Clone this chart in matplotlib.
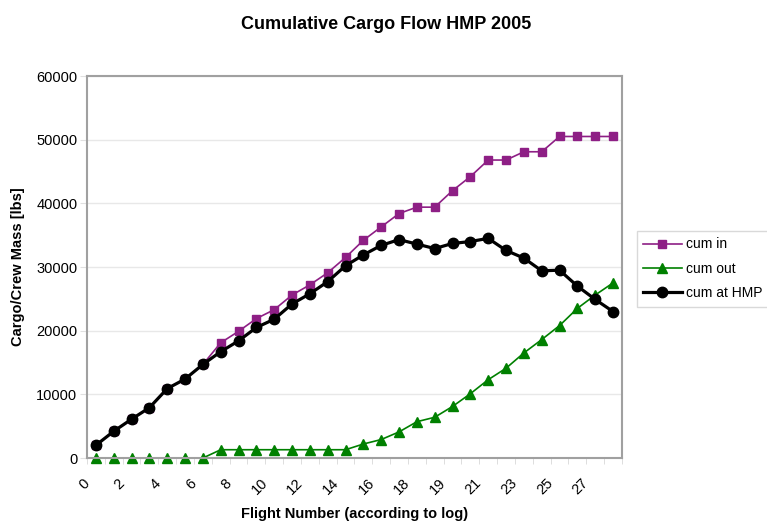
import matplotlib
matplotlib.use("Agg")
import matplotlib.pyplot as plt
import matplotlib.transforms as mtransforms

plt.rcParams['font.family'] = ['Liberation Sans', 'DejaVu Sans']

# flight numbers as recorded in the log (18 appears twice)
flights = [str(i) for i in range(19)] + [str(i) for i in range(18, 29)]

cum_in = [2000, 4200, 6100, 7900, 10900, 12400, 14700, 18100, 19900, 21900,
          23300, 25600, 27200, 29100, 31500, 34200, 36300, 38400, 39400, 39400,
          42000, 44200, 46800, 46800, 48100, 48100, 50500, 50500, 50500, 50500]
cum_out = [0, 0, 0, 0, 0, 0, 0, 1300, 1300, 1300,
           1300, 1300, 1300, 1300, 1300, 2200, 2900, 4100, 5700, 6400,
           8100, 10100, 12300, 14100, 16500, 18600, 20800, 23500, 25600, 27500]
cum_hmp = [2000, 4200, 6100, 7900, 10900, 12400, 14700, 16700, 18400, 20500,
           21800, 24200, 25800, 27700, 30200, 31900, 33400, 34300, 33600, 32900,
           33700, 34000, 34500, 32600, 31400, 29400, 29500, 27000, 24900, 23000]

fig = plt.figure(figsize=(7.67, 5.22), dpi=100)
ax = fig.add_axes([0.1134, 0.1226, 0.6975, 0.7318])

x = list(range(len(flights)))
ax.plot(x, cum_in, color='#8e1f85', lw=1.2, marker='s', ms=5.5, label='cum in', clip_on=False)
ax.plot(x, cum_out, color='#008000', lw=1.2, marker='^', ms=7, label='cum out', clip_on=False)
ax.plot(x, cum_hmp, color='black', lw=2.3, marker='o', ms=7.5, label='cum at HMP', clip_on=False)

ax.set_xlim(-0.5, len(flights) - 0.5)
ax.set_ylim(0, 60000)
ax.set_yticks(range(0, 60001, 10000))
ax.yaxis.grid(True, color='#e8e8e8', lw=1)
ax.set_axisbelow(True)

for s in ax.spines.values():
    s.set_color('#a0a0a0')
    s.set_linewidth(1.5)

# labels every other flight, tick marks between categories
ax.set_xticks(x[::2])
ax.set_xticklabels(flights[::2], rotation=45, ha='right', va='top')
ax.set_xticks([i - 0.5 for i in range(len(flights) + 1)], minor=True)
ax.tick_params(axis='x', which='major', length=0, pad=13, labelsize=10.5)
ax.tick_params(axis='x', which='minor', length=4, color='#d8d8d8')
ax.tick_params(axis='y', length=5, color='#e0e0e0', pad=2, labelsize=10.5)
shift = mtransforms.ScaledTranslation(-4 / 100, 0, fig.dpi_scale_trans)
for lab in ax.get_xticklabels():
    lab.set_transform(lab.get_transform() + shift)

ax.set_xlabel('Flight Number (according to log)', fontsize=10.5, fontweight='bold', labelpad=7)
ax.set_ylabel('Cargo/Crew Mass [lbs]', fontsize=10.5, fontweight='bold', labelpad=8)
fig.suptitle('Cumulative Cargo Flow HMP 2005', x=0.503, y=0.97, fontsize=13, fontweight='bold')

leg = ax.legend(loc='upper left', bbox_to_anchor=(0.83, 0.557), bbox_transform=fig.transFigure,
                frameon=True, fancybox=False, fontsize=10, handlelength=2.8,
                borderpad=0.45, labelspacing=0.75, handletextpad=0.3, borderaxespad=0)
leg.get_frame().set_edgecolor('#d0d0d0')
leg.get_frame().set_linewidth(1)

fig.savefig('out.png', dpi=100)
